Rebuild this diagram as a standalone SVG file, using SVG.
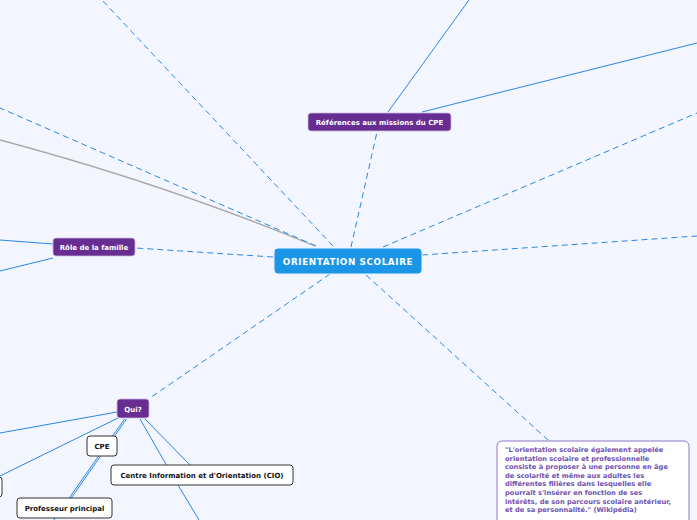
<svg xmlns="http://www.w3.org/2000/svg" width="697" height="520" viewBox="0 0 697 520">
<style>
.bg{fill:#f3f6fe}
.dash{fill:none;stroke:#2a86e6;stroke-width:1;stroke-dasharray:6,4}
.sol{fill:none;stroke:#2a86e6;stroke-width:1}
.gray{fill:none;stroke:#a8a8a8;stroke-width:1.3}
.main{fill:#1b95e6;stroke:#e9f3ff;stroke-width:1}
.purple{fill:#672d91;stroke:#c9b6e0;stroke-width:0.8}
.white{fill:#ffffff;stroke:#333333;stroke-width:1}
.quote{fill:#ffffff;stroke:#8f77c9;stroke-width:1}
.tw{font-family:"DejaVu Sans",Verdana,sans-serif;font-weight:bold;fill:#ffffff}
.tb{font-family:"DejaVu Sans",Verdana,sans-serif;font-weight:bold;fill:#111111;font-size:7px}
.tq{font-family:"DejaVu Sans",Verdana,sans-serif;font-weight:bold;fill:#6e52b1;font-size:6.7px}
</style>
<rect class="bg" x="0" y="0" width="697" height="520"/>
<g id="connectors">
  <path class="gray" d="M0,140 Q165,184 315,246"/>
  <line class="dash" x1="333" y1="246" x2="102" y2="0"/>
  <line class="dash" x1="316" y1="246" x2="0" y2="108"/>
  <line class="dash" x1="351" y1="247" x2="377" y2="132"/>
  <line class="dash" x1="383" y1="247" x2="697" y2="113"/>
  <line class="dash" x1="422" y1="255" x2="697" y2="236"/>
  <line class="dash" x1="273" y1="257" x2="136" y2="248"/>
  <line class="dash" x1="330" y1="274" x2="150" y2="398"/>
  <line class="dash" x1="366" y1="275" x2="548" y2="440"/>
  <line class="sol" x1="388" y1="112" x2="469" y2="0"/>
  <line class="sol" x1="422" y1="112" x2="697" y2="43"/>
  <line class="sol" x1="53" y1="244" x2="0" y2="240"/>
  <line class="sol" x1="53" y1="258" x2="0" y2="271"/>
  <line class="sol" x1="117" y1="412" x2="0" y2="433"/>
  <line class="sol" x1="118" y1="418" x2="0" y2="476"/>
  <line class="sol" x1="124.5" y1="419" x2="68.5" y2="499"/>
  <line class="sol" x1="126.5" y1="419" x2="70.5" y2="499"/>
  <line class="sol" x1="140" y1="419" x2="167" y2="466"/>
  <line class="sol" x1="145" y1="419" x2="191" y2="466"/>
  <line class="sol" x1="178" y1="485" x2="199" y2="520"/>
  <line class="sol" x1="55" y1="518" x2="54" y2="520"/>
</g>
<g id="n-central">
  <rect class="main" x="274" y="248" width="148" height="26" rx="4"/>
  <text class="tw" x="348" y="264.5" font-size="8.8" text-anchor="middle" letter-spacing="0.6">ORIENTATION SCOLAIRE</text>
</g>
<g id="n-references">
  <rect class="purple" x="308" y="113" width="143" height="18" rx="3"/>
  <text class="tw" x="379.5" y="125" font-size="7" text-anchor="middle">Références aux missions du CPE</text>
</g>
<g id="n-role">
  <rect class="purple" x="53" y="238" width="82" height="18" rx="3"/>
  <text class="tw" x="94" y="250" font-size="7" text-anchor="middle">Rôle de la famille</text>
</g>
<g id="n-qui">
  <rect class="purple" x="117" y="399" width="32" height="19" rx="3"/>
  <text class="tw" x="133" y="411.5" font-size="7" text-anchor="middle">Qui?</text>
</g>
<g id="n-cpe">
  <rect class="white" x="87" y="436" width="30" height="20" rx="3"/>
  <text class="tb" x="102" y="448.5" text-anchor="middle">CPE</text>
</g>
<g id="n-cio">
  <rect class="white" x="111" y="465" width="182" height="20" rx="3"/>
  <text class="tb" x="202" y="477.5" text-anchor="middle">Centre Information et d'Orientation (CIO)</text>
</g>
<g id="n-prof">
  <rect class="white" x="17" y="498" width="95" height="20" rx="3"/>
  <text class="tb" x="64.5" y="510.5" text-anchor="middle">Professeur principal</text>
</g>
<g id="n-partial">
  <rect class="white" x="-20" y="477" width="22" height="20" rx="3"/>
</g>
<g id="n-quote">
  <rect class="quote" x="497" y="441" width="192" height="90" rx="5"/>
  <text class="tq" x="505" y="452">"L'orientation scolaire également appelée</text>
  <text class="tq" x="505" y="460.6">orientation scolaire et professionnelle</text>
  <text class="tq" x="505" y="469.2">consiste à proposer à une personne  en âge</text>
  <text class="tq" x="505" y="477.8">de scolarité et même aux adultes les</text>
  <text class="tq" x="505" y="486.4">différentes filières dans lesquelles elle</text>
  <text class="tq" x="505" y="495">pourrait s'insérer en fonction de ses</text>
  <text class="tq" x="505" y="503.6">intérêts, de son parcours scolaire antérieur,</text>
  <text class="tq" x="505" y="512.2">et de sa personnalité." (Wikipédia)</text>
</g>
</svg>
